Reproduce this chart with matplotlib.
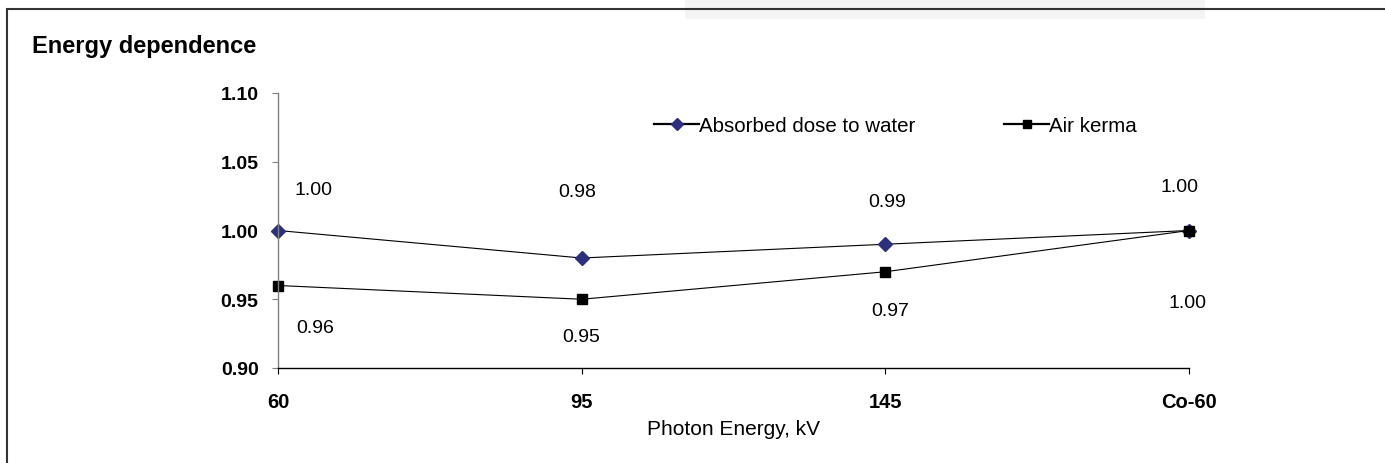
import matplotlib.pyplot as plt
from matplotlib.patches import Rectangle

plt.rcParams['font.family'] = ['Liberation Sans', 'DejaVu Sans']

categories = ['60', '95', '145', 'Co-60']
absorbed_dose = [1.00, 0.98, 0.99, 1.00]
air_kerma = [0.96, 0.95, 0.97, 1.00]
y_ticks = [0.90, 0.95, 1.00, 1.05, 1.10]

# label offsets in pixels (dx, dy), Excel put them a bit all over the place
absorbed_offsets = [(35, 41), (-4, 66), (2, 43), (-9, 44)]
air_offsets = [(37, -42), (0, -37), (5, -39), (-2, -72)]

W, H = 1385, 464
fig = plt.figure(figsize=(W / 100, H / 100), dpi=100)

# outer chart frame and faint band at top
fig.patches.append(Rectangle((685 / W, 1 - 20 / H), 520 / W, 20 / H, transform=fig.transFigure,
                             facecolor='#f4f4f4', edgecolor='none', zorder=0))
fig.patches.append(Rectangle((7 / W, -0.2), 2, 1.2 - 10 / H, transform=fig.transFigure,
                             facecolor='none', edgecolor='#333333', lw=1.5, zorder=1))

ax = fig.add_axes([278 / W, 1 - 369 / H, (1189 - 278) / W, (369 - 94) / H])
x = list(range(len(categories)))

ax.plot(x, absorbed_dose, color='black', lw=0.8, marker='D', markersize=7,
        markerfacecolor='#2b2f7e', markeredgecolor='#2b2f7e', label='Absorbed dose to water', clip_on=False)
ax.plot(x, air_kerma, color='black', lw=0.8, marker='s', markersize=6.5,
        markerfacecolor='black', markeredgecolor='black', label='Air kerma', clip_on=False)

for xi, v, (dx, dy) in zip(x, absorbed_dose, absorbed_offsets):
    ax.annotate(f'{v:.2f}', (xi, v), xytext=(dx * 0.72, dy * 0.72), textcoords='offset points',
                ha='center', va='center', fontsize=14)
for xi, v, (dx, dy) in zip(x, air_kerma, air_offsets):
    ax.annotate(f'{v:.2f}', (xi, v), xytext=(dx * 0.72, dy * 0.72), textcoords='offset points',
                ha='center', va='center', fontsize=14)

ax.set_xlim(0, len(categories) - 1)
ax.set_ylim(0.90, 1.10)
ax.set_xticks(x)
ax.set_xticklabels(categories, fontsize=14.5, fontweight='bold')
ax.set_yticks(y_ticks)
ax.set_yticklabels([f'{t:.2f}' for t in y_ticks], fontsize=14, fontweight='bold')
ax.tick_params(axis='y', length=4, width=0.8, color='#808080', pad=10)
ax.tick_params(axis='x', length=4, width=0.8, color='black', pad=13)

for s in ['top', 'right']:
    ax.spines[s].set_visible(False)
ax.spines['left'].set_color('#808080')
ax.spines['left'].set_linewidth(1.0)
ax.spines['bottom'].set_color('black')
ax.spines['bottom'].set_linewidth(1.0)

ax.set_xlabel('Photon Energy, kV', fontsize=15, labelpad=6)

fig.text(32 / W, 1 - 47 / H, 'Energy dependence', fontsize=17, fontweight='bold', va='center', ha='left')

leg = fig.legend(loc='center left', bbox_to_anchor=(654 / W, 1 - 127 / H), ncol=2, frameon=False,
                 fontsize=14.8, handlelength=2.2, handletextpad=0.0, columnspacing=4.3, borderpad=0,
                 borderaxespad=0, markerscale=0.85)
for line in leg.get_lines():
    line.set_linewidth(1.6)

fig.savefig('out.png', dpi=100)
